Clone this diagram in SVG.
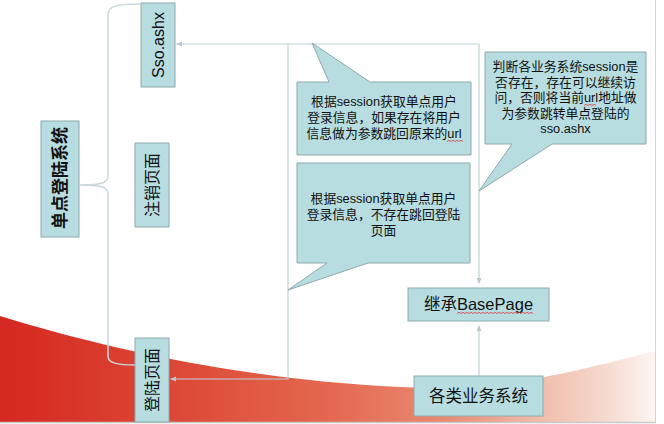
<svg xmlns="http://www.w3.org/2000/svg" width="664" height="424" viewBox="0 0 664 424">
<defs>
<linearGradient id="red" x1="0" y1="0" x2="1" y2="0">
<stop offset="0" stop-color="#d52820"/>
<stop offset="0.25" stop-color="#dc4634"/>
<stop offset="0.5" stop-color="#e3684f"/>
<stop offset="0.68" stop-color="#e98a70"/>
<stop offset="0.8" stop-color="#efb6a2"/>
<stop offset="0.92" stop-color="#f5d8cc"/>
<stop offset="1" stop-color="#fdf6f3"/>
</linearGradient>
<marker id="arr" viewBox="0 0 6 6" refX="5" refY="3" markerWidth="6" markerHeight="6" markerUnits="userSpaceOnUse" orient="auto-start-reverse">
<path d="M0,0.5 L6,3 L0,5.5 z" fill="#b9cacf"/>
</marker>
<style>
.box{fill:#b7dde1;stroke:#8ea9ae;stroke-width:1}
.t{font-family:"Liberation Sans","Noto Sans CJK SC",sans-serif;fill:#111;text-anchor:middle;dominant-baseline:central}
.v{font-size:16px}
.c{font-size:12.8px}
.conn{fill:none;stroke:#c2d2d6;stroke-width:1.2}
.brace{fill:none;stroke:#ccd7da;stroke-width:1.5}
.sq{fill:none;stroke:#e03838;stroke-width:0.8}
</style>
</defs>
<rect x="0" y="0" width="664" height="424" fill="#ffffff"/>
<path d="M0,316 C110,350 250,380 400,387 C470,390 520,382 545,377 C590,368 620,360 655,351 L655,422 L0,422 Z" fill="url(#red)"/>
<line x1="655.5" y1="0" x2="655.5" y2="423" stroke="#d4d4d4" stroke-width="1"/>
<line x1="0" y1="422.5" x2="656" y2="422.5" stroke="#c8c8c8" stroke-width="1.5"/>

<path class="brace" d="M140,4 C116,4 108,6 108,15 L108,176 C108,182 104,185 80,185 C104,185 108,188 108,194 L108,356 C108,363 116,365 136,365"/>

<g id="connectors">
<path class="conn" d="M479,283 L479,44 L177,44" marker-start="url(#arr)" marker-end="url(#arr)"/>
<path class="conn" d="M288,44 L288,379 L171,379" marker-end="url(#arr)"/>
<path class="conn" d="M479,376 L479,326" marker-end="url(#arr)"/>
</g>

<g id="sso">
<rect class="box" x="141" y="3" width="34" height="84"/>
<text class="t v" transform="translate(158,45) rotate(-90)">Sso.ashx</text>
</g>
<g id="sys">
<rect class="box" x="41" y="121" width="38" height="116"/>
<text class="t" style="font-size:17px;font-weight:bold" transform="translate(60,178) rotate(-90)">单点登陆系统</text>
</g>
<g id="logout">
<rect class="box" x="135" y="143" width="34" height="84"/>
<text class="t v" transform="translate(152,185) rotate(-90)">注销页面</text>
</g>
<g id="login">
<rect class="box" x="135" y="338" width="34" height="84"/>
<text class="t v" transform="translate(152,380) rotate(-90)">登陆页面</text>
</g>
<g id="basepage">
<rect class="box" x="408" y="288" width="141" height="33"/>
<text class="t" style="font-size:16.5px" x="478.5" y="304">继承BasePage</text>
<path class="sq" d="M457,313.5 l2,-1.2 l2,1.2 l2,-1.2 l2,1.2 l2,-1.2 l2,1.2 l2,-1.2 l2,1.2 l2,-1.2 l2,1.2 l2,-1.2 l2,1.2 l2,-1.2 l2,1.2 l2,-1.2 l2,1.2 l2,-1.2 l2,1.2 l2,-1.2 l2,1.2 l2,-1.2 l2,1.2 l2,-1.2 l2,1.2 l2,-1.2 l2,1.2 l2,-1.2 l2,1.2 l2,-1.2 l2,1.2 l2,-1.2 l2,1.2 l2,-1.2 l2,1.2 l2,-1.2 l2,1.2 l2,-1.2 l2,1.2"/>
</g>
<g id="biz">
<rect class="box" x="414" y="376" width="129" height="40"/>
<text class="t" style="font-size:16.5px" x="478.5" y="396">各类业务系统</text>
</g>
<g id="callout1">
<path class="box" d="M297,82 L329,82 L312,43 L370,82 L471,82 L471,155 L297,155 Z"/>
<text class="t c" x="384" y="101.5">根据session获取单点用户</text>
<text class="t c" x="384" y="117.5">登录信息，如果存在将用户</text>
<text class="t c" x="384" y="133.5">信息做为参数跳回原来的url</text>
<path class="sq" d="M447,141.5 l2,-1.2 l2,1.2 l2,-1.2 l2,1.2 l2,-1.2 l2,1.2 l2,-1.2 l2,1.2"/>
</g>
<g id="callout2">
<path class="box" d="M297,163 L470,163 L470,263 L368,263 L288,290 L327,263 L297,263 Z"/>
<text class="t c" x="383.5" y="198.5">根据session获取单点用户</text>
<text class="t c" x="383.5" y="214.5">登录信息，不存在跳回登陆</text>
<text class="t c" x="383.5" y="230">页面</text>
</g>
<g id="callout3">
<path class="box" d="M485,52 L646,52 L646,144 L552,144 L479,191 L512,144 L485,144 Z"/>
<text class="t c" x="565.5" y="66.5">判断各业务系统session是</text>
<text class="t c" x="565.5" y="82">否存在，存在可以继续访</text>
<text class="t c" x="565.5" y="97.5">问，否则将当前url地址做</text>
<text class="t c" x="565.5" y="113">为参数跳转单点登陆的</text>
<text class="t c" x="565.5" y="128.5">sso.ashx</text>
<path class="sq" d="M584,105.5 l2,-1.2 l2,1.2 l2,-1.2 l2,1.2 l2,-1.2 l2,1.2"/>
</g>
</svg>
